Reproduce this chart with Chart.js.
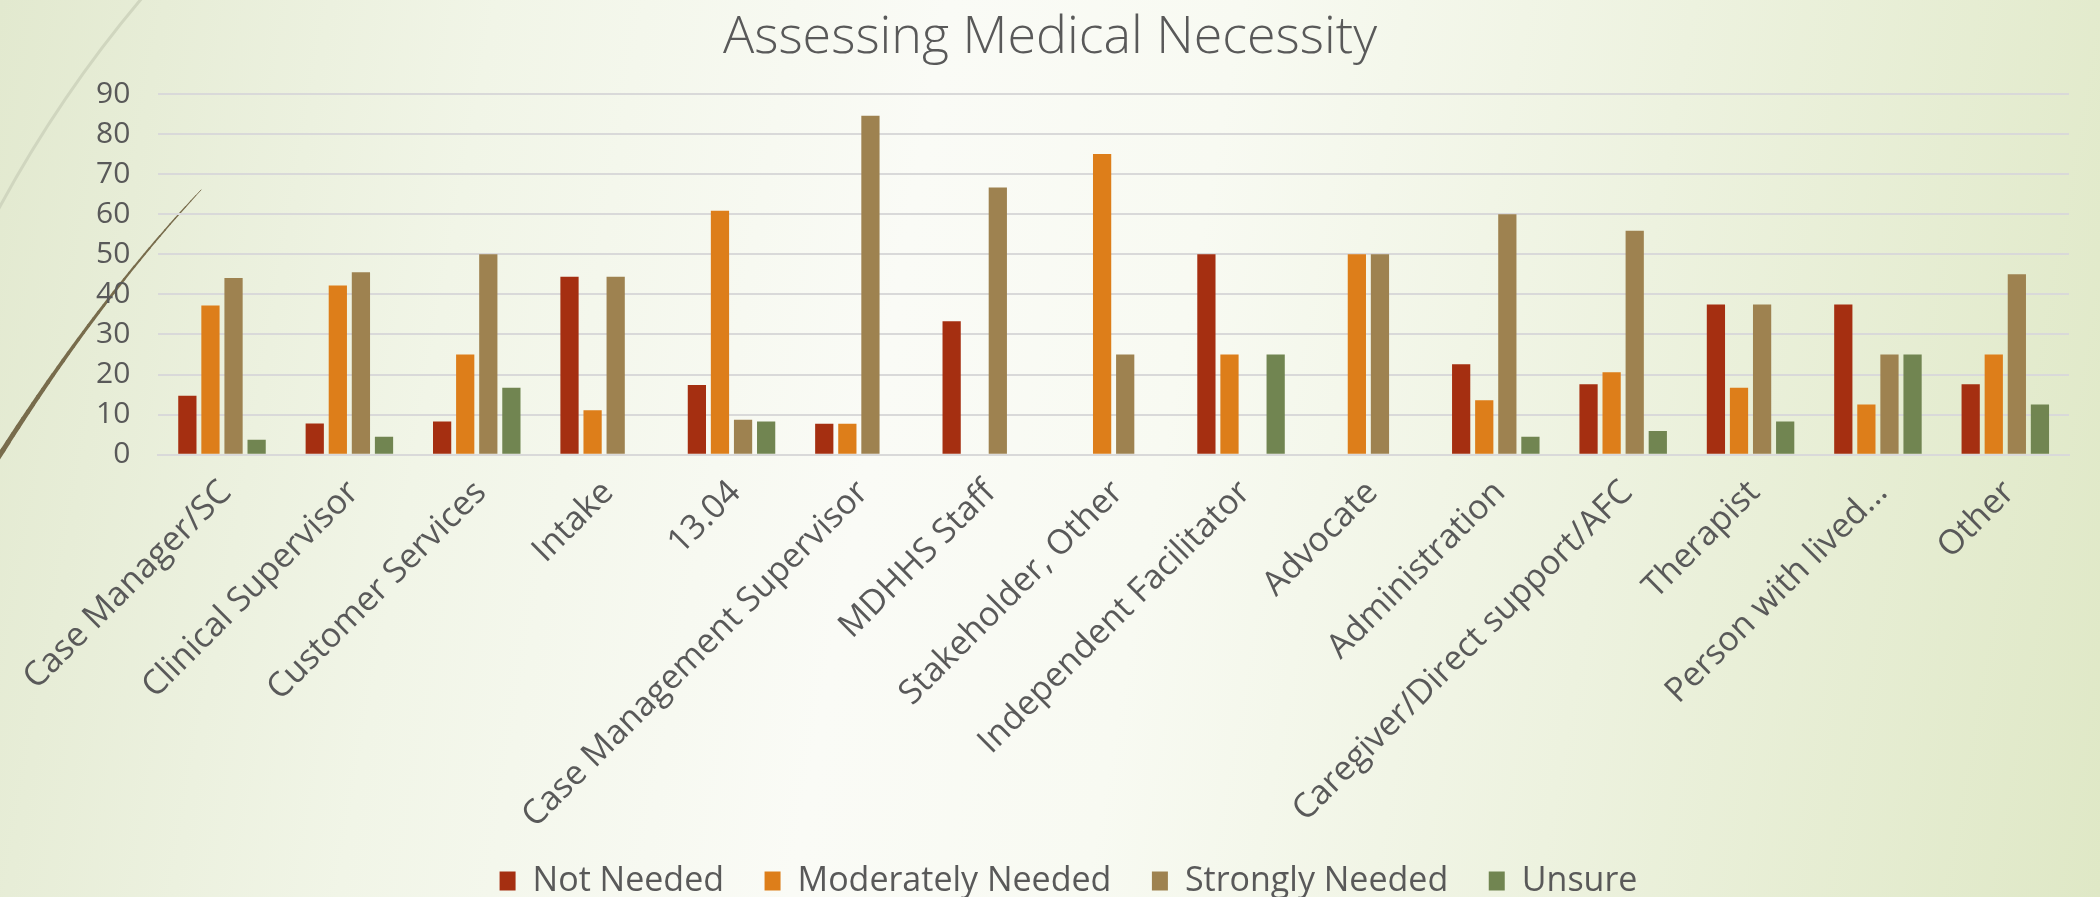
<!DOCTYPE html>
<html>
<head>
<meta charset="utf-8">
<script src="https://cdn.jsdelivr.net/npm/chart.js@4"></script>
<style>
  html, body { margin: 0; padding: 0; }
  body {
    width: 2100px; height: 897px; overflow: hidden;
    background: linear-gradient(100deg, #e2e9cf 0%, #f1f5e7 22%, #fafbf6 42%, #f8faf2 55%, #edf2df 75%, #dfe8c6 100%);
  }
  #wrap { position: relative; width: 2100px; height: 897px; }
  #title {
    position: absolute; left: 0; top: 7px; width: 2100px;
    text-align: center; color: #595959;
    font: 300 52px/52px 'Open Sans', 'DejaVu Sans', sans-serif;
  }
</style>
</head>
<body>
<div id="wrap">
  <canvas id="myChart"></canvas>
  <div id="title">Assessing Medical Necessity</div>
</div>
<script>
const categories = [
  "Case Manager/SC", "Clinical Supervisor", "Customer Services", "Intake", "13.04",
  "Case Management Supervisor", "MDHHS Staff", "Stakeholder, Other", "Independent Facilitator",
  "Advocate", "Administration", "Caregiver/Direct support/AFC", "Therapist",
  "Person with lived...", "Other"
];
const notNeeded        = [14.7, 7.8, 8.3, 44.4, 17.4, 7.7, 33.3, 0, 50, 0, 22.6, 17.6, 37.5, 37.5, 17.6];
const moderatelyNeeded = [37.2, 42.2, 25.0, 11.1, 60.9, 7.7, 0, 75.0, 25, 50, 13.6, 20.6, 16.7, 12.5, 25];
const stronglyNeeded   = [44.1, 45.5, 50.0, 44.4, 8.7, 84.6, 66.7, 25.0, 0, 50, 60.0, 55.9, 37.5, 25, 45];
const unsure           = [3.7, 4.5, 16.7, 0, 8.3, 0, 0, 0, 25, 0, 4.5, 5.9, 8.3, 25, 12.5];
const yTicks = [0, 10, 20, 30, 40, 50, 60, 70, 80, 90];

const textColor = "#595959";
const fontName = "'Open Sans', 'DejaVu Sans', sans-serif";

// decorative swooshes at the left edge of the slide
const swoosh = {
  id: "swoosh",
  beforeDraw(chart) {
    const ctx = chart.ctx;
    ctx.save();
    ctx.strokeStyle = "#d0d6bf";
    ctx.lineWidth = 3;
    ctx.beginPath();
    ctx.moveTo(142, -2);
    ctx.quadraticCurveTo(60, 95, -2, 210);
    ctx.stroke();
    // tapered dark line
    const p0 = [201, 190], c = [98, 300], p1 = [-2, 458];
    const n = 40;
    ctx.strokeStyle = "#786c4c";
    ctx.lineCap = "round";
    for (let i = 0; i < n; i++) {
      const t0 = i / n, t1 = (i + 1) / n;
      const q = (t) => [
        (1 - t) * (1 - t) * p0[0] + 2 * (1 - t) * t * c[0] + t * t * p1[0],
        (1 - t) * (1 - t) * p0[1] + 2 * (1 - t) * t * c[1] + t * t * p1[1]
      ];
      const a = q(t0), b = q(t1);
      ctx.lineWidth = 0.8 + 4.2 * t1;
      ctx.beginPath();
      ctx.moveTo(a[0], a[1]);
      ctx.lineTo(b[0], b[1]);
      ctx.stroke();
    }
    ctx.restore();
  }
};

const mk = (label, data, color) => ({
  label: label,
  data: data,
  backgroundColor: color,
  borderWidth: 0,
  categoryPercentage: 0.725,
  barPercentage: 0.79
});

const ctx = document.getElementById("myChart").getContext("2d");
const chart = new Chart(ctx, {
  type: "bar",
  data: {
    labels: categories,
    datasets: [
      mk("Not Needed", notNeeded, "#a52f11"),
      mk("Moderately Needed", moderatelyNeeded, "#dd7e1a"),
      mk("Strongly Needed", stronglyNeeded, "#9e8250"),
      mk("Unsure", unsure, "#718551")
    ]
  },
  plugins: [swoosh],
  options: {
    responsive: true,
    maintainAspectRatio: false,
    animation: false,
    layout: { padding: { left: 68, right: 31, top: 94, bottom: -11 } },
    plugins: {
      title: { display: false },
      legend: {
        position: "bottom",
        labels: {
          color: textColor,
          font: { family: fontName, size: 34 },
          boxWidth: 16,
          boxHeight: 19,
          padding: 14,
          // wider gap between legend entries
          generateLabels: (chart) => {
            const items = Chart.defaults.plugins.legend.labels.generateLabels(chart);
            items.forEach((it, i) => { if (i < items.length - 1) it.text += "   "; });
            return items;
          }
        }
      },
      tooltip: { enabled: false }
    },
    scales: {
      x: {
        grid: { display: false },
        border: { color: "#d9d9d9", width: 2 },
        ticks: {
          color: textColor,
          font: { family: fontName, size: 34 },
          maxRotation: 45,
          minRotation: 45,
          autoSkip: false,
          padding: 10,
          labelOffset: 4
        },
        afterFit: (scale) => {
          scale.paddingLeft = 0;
          scale.paddingRight = 0;
          scale.height += 4;
        }
      },
      y: {
        min: 0,
        max: 90,
        afterBuildTicks: (axis) => { axis.ticks = yTicks.map(v => ({ value: v })); },
        grid: { color: "#d9d9d9", lineWidth: 2, drawTicks: false },
        border: { display: false },
        ticks: {
          color: textColor,
          font: { family: fontName, size: 30 },
          padding: 28,
          autoSkip: false
        }
      }
    }
  }
});
</script>
</body>
</html>
